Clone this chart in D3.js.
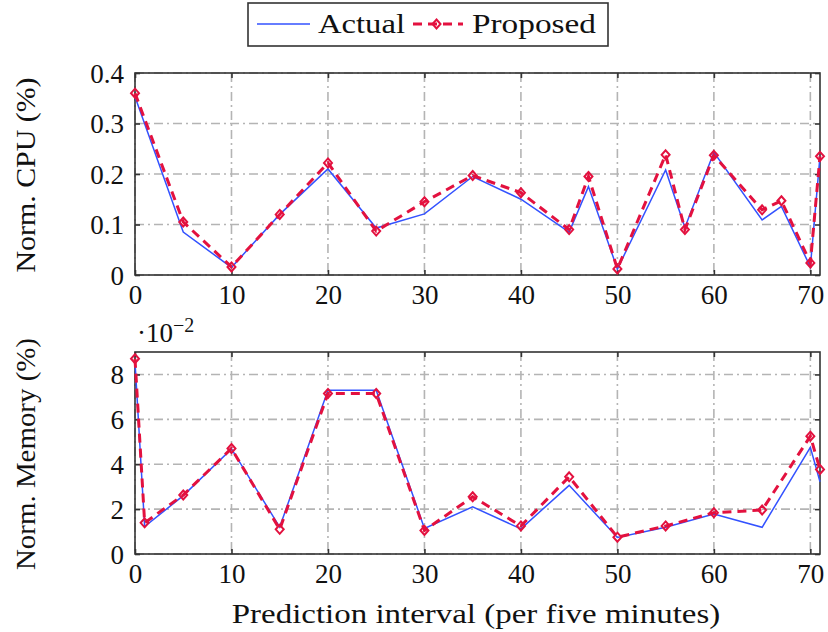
<!DOCTYPE html>
<html>
<head>
<meta charset="utf-8">
<script src="https://cdn.jsdelivr.net/npm/d3@7"></script>
<style>
  body { margin: 0; background: #fff; }
  text { font-family: "Liberation Serif", serif; fill: #111; }
</style>
</head>
<body>
<div id="chart"></div>
<script>
// values
const cpuX = [0, 5, 10, 15, 20, 25, 30, 35, 40, 45, 47, 50, 55, 57, 60, 65, 67, 70, 71];
const cpuActual = [0.353, 0.085, 0.015, 0.12, 0.21, 0.093, 0.121, 0.195, 0.15, 0.085, 0.175, 0.012, 0.208, 0.094, 0.243, 0.109, 0.136, 0.016, 0.235];
const cpuProposed = [0.36, 0.105, 0.016, 0.12, 0.222, 0.087, 0.145, 0.197, 0.163, 0.09, 0.195, 0.012, 0.238, 0.09, 0.237, 0.129, 0.147, 0.024, 0.235];

const memX = [0, 1, 5, 10, 15, 20, 25, 30, 35, 40, 45, 50, 55, 60, 65, 70, 71];
const memActual = [8.55, 1.22, 2.6, 4.68, 1.2, 7.3, 7.3, 1.14, 2.1, 1.12, 3.06, 0.74, 1.19, 1.78, 1.19, 4.75, 3.22];
const memProposed = [8.7, 1.39, 2.63, 4.7, 1.1, 7.15, 7.15, 1.05, 2.55, 1.25, 3.44, 0.75, 1.25, 1.84, 1.96, 5.25, 3.77];

const xTicks = [0, 10, 20, 30, 40, 50, 60, 70];
const cpuTicks = [0, 0.1, 0.2, 0.3, 0.4];
const memTicks = [0, 2, 4, 6, 8];
const seriesNames = ["Actual", "Proposed"];

const W = 828, H = 632;
const blue = "#3352ff", red = "#e3113f", gridCol = "#b4b4b4", axisCol = "#333";
const serif = "Liberation Serif";

const svg = d3.select("#chart").append("svg")
    .attr("width", W).attr("height", H)
    .attr("font-family", serif);

const x = d3.scaleLinear().domain([0, 71]).range([135, 820]);

// stretch Times-like glyphs toward Computer Modern width
function widen(sel, k) {
    sel.each(function () {
        const w = this.getComputedTextLength();
        d3.select(this).attr("textLength", w * k).attr("lengthAdjust", "spacingAndGlyphs");
    });
}

function diamond(g, px, py) {
    g.append("path")
        .attr("d", `M${px},${py - 4.5}L${px + 4},${py}L${px},${py + 4.5}L${px - 4},${py}Z`)
        .attr("fill", "none").attr("stroke", red).attr("stroke-width", 2);
}

function panel(opt) {
    const y = d3.scaleLinear().domain(opt.domain).range([opt.bottom, opt.top]);
    const g = svg.append("g");
    const [x0, x1] = x.range();

    // grid
    g.append("g").selectAll("line").data(xTicks).join("line")
        .attr("x1", d => x(d)).attr("x2", d => x(d))
        .attr("y1", opt.top).attr("y2", opt.bottom)
        .attr("stroke", gridCol).attr("stroke-width", 1.6)
        .attr("stroke-dasharray", "9,4,2,4");
    g.append("g").selectAll("line").data(opt.ticks).join("line")
        .attr("x1", x0).attr("x2", x1)
        .attr("y1", d => y(d)).attr("y2", d => y(d))
        .attr("stroke", gridCol).attr("stroke-width", 1.6)
        .attr("stroke-dasharray", "9,4,2,4");

    // frame
    g.append("rect").attr("x", x0).attr("y", opt.top)
        .attr("width", x1 - x0).attr("height", opt.bottom - opt.top)
        .attr("fill", "none").attr("stroke", axisCol).attr("stroke-width", 1.6);

    // inward ticks on all four sides
    const xAxisB = d3.axisBottom(x).tickValues(xTicks).tickSize(-5).tickFormat(d3.format("d")).tickPadding(10);
    const xAxisT = d3.axisTop(x).tickValues(xTicks).tickSize(-5).tickFormat("");
    const yAxisL = d3.axisLeft(y).tickValues(opt.ticks).tickSize(-5).tickFormat(opt.fmt).tickPadding(11);
    const yAxisR = d3.axisRight(y).tickValues(opt.ticks).tickSize(-5).tickFormat("");

    const style = a => a.attr("font-family", serif).attr("font-size", 27)
        .call(s => s.select(".domain").remove())
        .call(s => s.selectAll(".tick line").attr("stroke", axisCol).attr("stroke-width", 1.6))
        .call(s => s.selectAll(".tick text").attr("font-size", 27).attr("fill", "#111")
            .attr("font-family", serif));

    g.append("g").attr("transform", `translate(0,${opt.bottom})`).call(xAxisB).call(style)
        .selectAll(".tick text").attr("dy", "0.72em");
    g.append("g").attr("transform", `translate(0,${opt.top})`).call(xAxisT).call(style);
    g.append("g").attr("transform", `translate(${x0},0)`).call(yAxisL).call(style)
        .selectAll(".tick text").attr("dy", "0.34em");
    g.append("g").attr("transform", `translate(${x1},0)`).call(yAxisR).call(style);

    // series
    const line = d3.line().x((d, i) => x(opt.xs[i])).y(d => y(d));
    g.append("path").datum(opt.actual).attr("d", line)
        .attr("fill", "none").attr("stroke", blue).attr("stroke-width", 1.5);
    g.append("path").datum(opt.proposed).attr("d", line)
        .attr("fill", "none").attr("stroke", red).attr("stroke-width", 3)
        .attr("stroke-dasharray", "9,6");
    const mk = g.append("g");
    opt.proposed.forEach((v, i) => diamond(mk, x(opt.xs[i]), y(v)));

    // y label
    g.append("text")
        .attr("transform", `translate(35,${(opt.top + opt.bottom) / 2 + opt.labShift}) rotate(-90)`)
        .attr("text-anchor", "middle").attr("font-size", 27)
        .text(opt.label)
        .attr("textLength", opt.labLen).attr("lengthAdjust", "spacingAndGlyphs");
    return y;
}

panel({
    domain: [0, 0.4], top: 73, bottom: 275, ticks: cpuTicks,
    fmt: d => d === 0 ? "0" : d3.format(".1f")(d),
    xs: cpuX, actual: cpuActual, proposed: cpuProposed,
    label: "Norm. CPU (%)", labLen: 195, labShift: 1
});

panel({
    domain: [0, 9], top: 352, bottom: 554, ticks: memTicks,
    fmt: d3.format("d"),
    xs: memX, actual: memActual, proposed: memProposed,
    label: "Norm. Memory (%)", labLen: 232, labShift: 1
});

// scale factor note above the memory panel
const sf = svg.append("text").attr("x", 137).attr("y", 342).attr("font-size", 27);
sf.append("tspan").text("·10");
sf.append("tspan").attr("font-size", 20).attr("dy", -10).text("−2");

// x label
svg.append("text").attr("x", 476).attr("y", 623)
    .attr("text-anchor", "middle").attr("font-size", 27)
    .text("Prediction interval (per five minutes)")
    .call(widen, 1.22);

// legend
const lg = svg.append("g");
lg.append("rect").attr("x", 248).attr("y", 3).attr("width", 360).attr("height", 43)
    .attr("fill", "#fff").attr("stroke", axisCol).attr("stroke-width", 1.6);
lg.append("line").attr("x1", 257).attr("x2", 310).attr("y1", 24).attr("y2", 24)
    .attr("stroke", blue).attr("stroke-width", 1.5);
lg.append("text").attr("x", 318).attr("y", 33).attr("font-size", 27)
    .text(seriesNames[0]).attr("textLength", 87).attr("lengthAdjust", "spacingAndGlyphs");
lg.append("line").attr("x1", 410).attr("x2", 463).attr("y1", 24).attr("y2", 24)
    .attr("stroke", red).attr("stroke-width", 3).attr("stroke-dasharray", "9,6")
    .attr("stroke-dashoffset", -3);
diamond(lg, 436.5, 24);
lg.append("text").attr("x", 472).attr("y", 33).attr("font-size", 27)
    .text(seriesNames[1]).attr("textLength", 124).attr("lengthAdjust", "spacingAndGlyphs");
</script>
</body>
</html>
